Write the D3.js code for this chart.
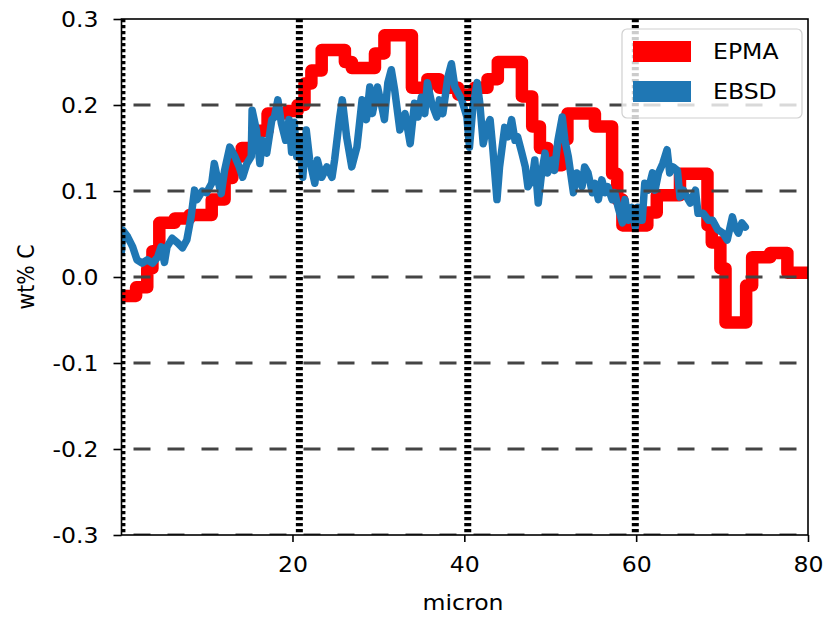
<!DOCTYPE html>
<html>
<head>
<meta charset="utf-8">
<script src="https://cdn.jsdelivr.net/npm/d3@7"></script>
<style>
  body { margin: 0; background: #fff; }
  text { font-family: "DejaVu Sans", sans-serif; }
</style>
</head>
<body>
<div id="chart"></div>
<script>
// EPMA step profile (x start in micron, wt% C)
const epmaX = [0.1, 1.8, 3.1, 3.7, 4.5, 6.3, 8.0, 10.6, 12.1, 13.0, 14.1, 15.6, 17.1, 19.4, 20.6, 21.4, 22.2, 23.4,
  26.1, 26.9, 29.6, 30.7, 33.9, 35.7, 37.1, 39.3, 41.2, 42.7, 43.9, 46.7, 47.9, 48.8, 49.7, 51.4, 52.0, 55.2,
  57.2, 57.8, 58.4, 61.3, 62.4, 65.1, 68.3, 68.8, 69.8, 70.4, 72.8, 73.5, 75.6, 77.6, 80]
const epmaY = [-0.022, -0.012, 0.01, 0.03, 0.063, 0.068, 0.072, 0.09, 0.115, 0.14, 0.15, 0.17, 0.19, 0.193, 0.2, 0.225, 0.24, 0.264,
  0.25, 0.243, 0.26, 0.281, 0.22, 0.23, 0.22, 0.212, 0.22, 0.23, 0.25, 0.21, 0.175, 0.15, 0.13, 0.16, 0.19, 0.175,
  0.12, 0.09, 0.06, 0.075, 0.095, 0.12, 0.06, 0.04, 0.01, -0.053, -0.01, 0.023, 0.028, 0.005, 0.005]

// EBSD profile
const ebsdX = [0.1, 0.2, 0.8, 1.4, 1.9, 2.5, 3.1, 3.7, 4.3, 4.7, 5.1, 5.4, 6.0, 6.6, 7.2, 7.7, 8.2, 8.6, 8.9, 9.5,
  10.0, 10.6, 10.9, 11.3, 11.7, 12.1, 12.7, 13.3, 13.8, 14.2, 14.7, 15.2, 15.3, 15.8, 16.2, 16.5, 17.0, 17.6, 17.9,
  18.3, 18.7, 19.2, 19.6, 19.9, 20.2, 20.5, 20.8, 21.2, 21.6, 22.0, 22.6, 22.9, 23.4, 24.0, 24.6, 24.9, 25.5, 25.8,
  26.3, 26.9, 27.5, 28.1, 28.6, 29.0, 29.3, 29.9, 30.4, 30.7, 31.1, 31.5, 31.9, 32.5, 33.1, 33.7, 34.2, 34.6, 35.0,
  35.4, 35.7, 36.2, 36.8, 37.1, 37.5, 38.1, 38.5, 38.9, 39.7, 40.3, 40.6, 41.0, 41.5, 41.8, 42.2, 42.6, 43.0, 43.3,
  43.8, 44.1, 44.7, 45.1, 45.5, 45.9, 46.2, 46.7, 47.1, 47.4, 47.9, 48.2, 48.6, 49.0, 49.4, 49.7, 50.2, 50.5, 50.9,
  51.4, 51.7, 52.1, 52.7, 53.1, 53.7, 54.0, 54.4, 54.9, 55.2, 55.6, 56.0, 56.4, 56.7, 57.2, 57.5, 57.9, 58.4, 58.7,
  59.1, 59.5, 59.9, 60.2, 60.7, 61.0, 61.4, 61.9, 62.2, 62.6, 63.1, 63.6, 63.9, 64.3, 64.8, 65.1, 65.5, 65.9, 66.3,
  66.9, 67.2, 67.8, 68.4, 68.9, 69.5, 70.1, 70.6, 71.2, 71.5, 71.9, 72.3, 72.7]
const ebsdY = [0.03, 0.055, 0.047, 0.035, 0.02, 0.016, 0.02, 0.016, 0.023, 0.035, 0.017, 0.035, 0.045, 0.04, 0.034, 0.043,
  0.07, 0.101, 0.09, 0.1, 0.098, 0.109, 0.132, 0.113, 0.097, 0.124, 0.151, 0.14, 0.128, 0.116, 0.132, 0.14, 0.194,
  0.171, 0.132, 0.159, 0.144, 0.183, 0.186, 0.206, 0.179, 0.159, 0.183, 0.145, 0.18, 0.14, 0.163, 0.116, 0.171, 0.136,
  0.109, 0.136, 0.116, 0.128, 0.116, 0.136, 0.186, 0.206, 0.163, 0.128, 0.151, 0.206, 0.183, 0.221, 0.19, 0.221, 0.198,
  0.183, 0.226, 0.241, 0.217, 0.171, 0.19, 0.155, 0.202, 0.186, 0.209, 0.19, 0.226, 0.202, 0.186, 0.206, 0.19, 0.233,
  0.248, 0.221, 0.206, 0.186, 0.151, 0.198, 0.226, 0.202, 0.155, 0.174, 0.183, 0.151, 0.09, 0.128, 0.174, 0.163, 0.183,
  0.159, 0.163, 0.144, 0.128, 0.105, 0.113, 0.136, 0.086, 0.121, 0.144, 0.121, 0.136, 0.124, 0.159, 0.186, 0.159, 0.14,
  0.098, 0.121, 0.105, 0.128, 0.121, 0.098, 0.109, 0.09, 0.113, 0.098, 0.105, 0.09, 0.098, 0.081, 0.063, 0.09, 0.066,
  0.081, 0.058, 0.081, 0.066, 0.109, 0.101, 0.121, 0.101, 0.121, 0.132, 0.148, 0.121, 0.128, 0.124, 0.093, 0.101, 0.093,
  0.086, 0.101, 0.074, 0.074, 0.066, 0.066, 0.055, 0.051, 0.043, 0.07, 0.058, 0.051, 0.063, 0.058]

const xTicks = [20, 40, 60, 80]
const yTicks = [-0.3, -0.2, -0.1, 0.0, 0.1, 0.2, 0.3]
const vLines = [0.15, 20.8, 40.4, 59.9]
const hLines = [-0.3, -0.2, -0.1, 0.0, 0.1, 0.2]
const seriesNames = ["EPMA", "EBSD"]
const seriesColors = ["#ff0000", "#1f77b4"]

const width = 826, height = 617
const sx = 1.15   // the picture is a bit wider than tall
const fontSize = 20.5

const svg = d3.select("#chart").append("svg")
    .attr("width", width).attr("height", height)

const x = d3.scaleLinear().domain([0.1, 80]).range([121.5, 808])
const y = d3.scaleLinear().domain([-0.3, 0.3]).range([535, 19])

svg.append("clipPath").attr("id", "plot")
  .append("rect").attr("x", 121.5).attr("y", 19).attr("width", 808 - 121.5).attr("height", 535 - 19)

const plot = svg.append("g").attr("clip-path", "url(#plot)")

const epma = epmaX.map((d, i) => [d, epmaY[i]])
const ebsd = ebsdX.map((d, i) => [d, ebsdY[i]])

plot.append("path")
    .attr("d", d3.line().x(d => x(d[0])).y(d => y(d[1])).curve(d3.curveStepAfter)(epma))
    .attr("fill", "none").attr("stroke", seriesColors[0])
    .attr("stroke-width", 12.5).attr("stroke-linejoin", "round")

plot.append("path")
    .attr("d", d3.line().x(d => x(d[0])).y(d => y(d[1]))(ebsd))
    .attr("fill", "none").attr("stroke", seriesColors[1])
    .attr("stroke-width", 7.5).attr("stroke-linejoin", "round").attr("stroke-linecap", "round")

// reference lines on top
plot.selectAll(".hline").data(hLines).enter().append("line")
    .attr("x1", 121.5).attr("x2", 808)
    .attr("y1", d => y(d)).attr("y2", d => y(d))
    .attr("stroke", "#444").attr("stroke-width", 2.8)
    .attr("stroke-dasharray", "17,17").attr("stroke-dashoffset", 22)

plot.selectAll(".vline").data(vLines).enter().append("line")
    .attr("x1", d => x(d)).attr("x2", d => x(d))
    .attr("y1", 19).attr("y2", 535)
    .attr("stroke", "#000").attr("stroke-width", 7)
    .attr("stroke-dasharray", "3.2,2.8")

// axes
const xAxis = svg.append("g").attr("transform", "translate(0,535)")
    .call(d3.axisBottom(x).tickValues(xTicks).tickSize(7).tickPadding(0).tickFormat(d3.format("d")))
xAxis.select(".domain").remove()
xAxis.selectAll("line").attr("stroke", "#000").attr("stroke-width", 1.6)
xAxis.selectAll("text")
    .attr("y", 21).attr("dy", "0.76em")
    .attr("transform", `scale(${sx},1)`)
    .style("font-size", fontSize + "px").attr("fill", "#000")

const yAxis = svg.append("g").attr("transform", "translate(121.5,0)")
    .call(d3.axisLeft(y).tickValues(yTicks).tickSize(8).tickFormat(d => d3.format(".1f")(d).replace("−", "-")))
yAxis.select(".domain").remove()
yAxis.selectAll("line").attr("stroke", "#000").attr("stroke-width", 1.6)
yAxis.selectAll("text")
    .attr("x", -20).attr("dy", "0.36em")
    .attr("transform", `scale(${sx},1)`)
    .style("font-size", fontSize + "px").attr("fill", "#000")

// spines
svg.append("rect")
    .attr("x", 121.5).attr("y", 19).attr("width", 808 - 121.5).attr("height", 535 - 19)
    .attr("fill", "none").attr("stroke", "#000").attr("stroke-width", 1.6)

// axis labels
svg.append("text")
    .attr("transform", `translate(463,603) scale(${sx},1)`)
    .attr("text-anchor", "middle").attr("dy", "0.36em")
    .style("font-size", fontSize + "px")
    .text("micron")

svg.append("text")
    .attr("transform", `translate(26,277) scale(${sx},1) rotate(-90)`)
    .attr("text-anchor", "middle").attr("dy", "0.36em")
    .style("font-size", fontSize + "px")
    .text("wt% C")

// legend
const legend = svg.append("g").attr("transform", "translate(622,29)")
legend.append("rect")
    .attr("width", 180).attr("height", 89).attr("rx", 5)
    .attr("fill", "#fff").attr("fill-opacity", 0.8)
    .attr("stroke", "#d0d0d0").attr("stroke-width", 1.2)
seriesNames.forEach((name, i) => {
  legend.append("rect")
      .attr("x", 11).attr("y", 12 + i * 40).attr("width", 58).attr("height", 21)
      .attr("fill", seriesColors[i])
  legend.append("text")
      .attr("transform", `translate(91,${22.5 + i * 40}) scale(${sx},1)`)
      .attr("dy", "0.36em")
      .style("font-size", fontSize + "px")
      .text(name)
})
</script>
</body>
</html>
